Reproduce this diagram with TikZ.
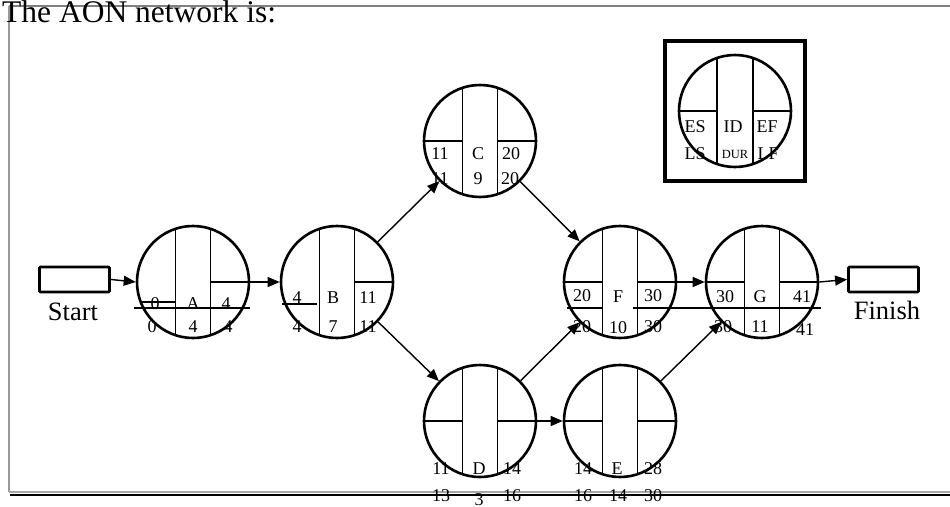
\documentclass[tikz,border=0pt]{standalone}
\usepackage{fontspec}
\setmainfont{Liberation Serif}
\usetikzlibrary{arrows.meta}
\newcommand\aonvert[2]{%
  \draw[div] (#1-17.5,#2-53) -- (#1-17.5,#2+53);
  \draw[div] (#1+17.5,#2-53) -- (#1+17.5,#2+53);
  \draw[div] (#1+17.5,#2) -- (#1+56,#2);
}
\newcommand\aonleft[2]{%
  \draw[div] (#1-56,#2) -- (#1-17.5,#2);
}
\begin{document}
\begin{tikzpicture}[x=1pt,y=-1pt,
  aon/.style={circle,draw,line width=2.6pt,minimum size=112pt,inner sep=0pt},
  div/.style={line width=1.3pt},
  conn/.style={line width=1.4pt,-{Triangle[length=12pt,width=10pt]}},
  lbl/.style={font=\fontsize{18}{18}\selectfont,anchor=base,inner sep=0pt},
  small/.style={font=\fontsize{12.5}{12.5}\selectfont,anchor=base,inner sep=0pt},
  big/.style={font=\fontsize{26.5}{26.5}\selectfont,anchor=base,inner sep=0pt},
  boxnode/.style={draw,line width=2.8pt,minimum width=70pt,minimum height=25pt,inner sep=0pt,rounded corners=1pt},
]
\useasboundingbox (0,0) rectangle (950,506);
% frame
\draw[black!50, line width=2pt] (9,6) -- (950,6);
\draw[black!40, line width=2pt] (9,6) -- (9,492);
\draw[black!35, line width=2pt] (9,491.5) -- (950,491.5);
\draw[black, line width=2pt] (10,494.5) -- (950,494.5);
\node[anchor=base west,font=\fontsize{31.5}{31.5}\selectfont,inner sep=0pt] (title) at (2,23) {The AON network is:};

% start / finish
\node[boxnode] (start) at (74.5,279.5) {};
\node[big] (starttxt) at (73,320) {Start};
\node[boxnode] (fin) at (883.5,279.5) {};
\node[big] (fintxt) at (887,319) {Finish};

% activity nodes
\node[aon] (A) at (193,282) {};
\node[aon] (B) at (337,282) {};
\node[aon] (C) at (480,141) {};
\node[aon] (D) at (480,421) {};
\node[aon] (E) at (620,421) {};
\node[aon] (F) at (620,282) {};
\node[aon] (G) at (762,282) {};

\aonvert{193}{282}
\aonvert{337}{282}
\aonvert{480}{141}\aonleft{480}{141}
\aonvert{480}{421}\aonleft{480}{421}
\aonvert{620}{421}\aonleft{620}{421}
\aonvert{620}{282}\aonleft{620}{282}
\aonvert{762}{282}\aonleft{762}{282}

% stray lines
\draw[div] (140,302) -- (175,302);
\draw[div] (134,308) -- (250,308);
\draw[div] (282,304) -- (317,304);
\draw[div] (567,308) -- (603,308);
\draw[div] (633,308) -- (821,308);

% labels A
\node[lbl] (a1) at (155,309) {0};
\node[lbl] (a2) at (193,309) {A};
\node[lbl] (a3) at (226,309) {4};
\node[lbl] (a4) at (152,332.5) {0};
\node[lbl] (a5) at (193,332.5) {4};
\node[lbl] (a6) at (228,332.5) {4};
% B
\node[lbl] (b1) at (297,303.5) {4};
\node[lbl] (b2) at (333,303.5) {B};
\node[lbl] (b3) at (368,303.5) {11};
\node[lbl] (b4) at (297,332) {4};
\node[lbl] (b5) at (333,332) {7};
\node[lbl] (b6) at (368,332) {11};
% C
\node[lbl] (c1) at (440,159) {11};
\node[lbl] (c2) at (478,159) {C};
\node[lbl] (c3) at (511,159) {20};
\node[lbl] (c4) at (440,184) {11};
\node[lbl] (c5) at (478,184) {9};
\node[lbl] (c6) at (510,184) {20};
% F
\node[lbl] (f1) at (582,301.5) {20};
\node[lbl] (f2) at (618,302.5) {F};
\node[lbl] (f3) at (653,301.5) {30};
\node[lbl] (f4) at (582,332) {20};
\node[lbl] (f5) at (618,333) {10};
\node[lbl] (f6) at (653,332) {30};
% G
\node[lbl] (g1) at (725,302.5) {30};
\node[lbl] (g2) at (760,302.5) {G};
\node[lbl] (g3) at (802,302) {41};
\node[lbl] (g4) at (723,332) {30};
\node[lbl] (g5) at (760,332) {11};
\node[lbl] (g6) at (805,335) {41};
% D
\node[lbl] (d1) at (441,474) {11};
\node[lbl] (d2) at (479,474) {D};
\node[lbl] (d3) at (512,474) {14};
\node[lbl] (d4) at (441,501) {13};
\node[lbl] (d5) at (479,505) {3};
\node[lbl] (d6) at (512,501) {16};
% E
\node[lbl] (e1) at (583,474) {14};
\node[lbl] (e2) at (617,474) {E};
\node[lbl] (e3) at (653,474) {28};
\node[lbl] (e4) at (583,501) {16};
\node[lbl] (e5) at (618,501) {14};
\node[lbl] (e6) at (653,501) {30};

% legend
\node[draw,line width=3.6pt,minimum size=140pt,inner sep=0pt] (key) at (735,111) {};
\node[aon] (keyc) at (735,111) {};
\draw[div] (717,58) -- (717,164);
\draw[div] (753,58) -- (753,164);
\draw[div] (679,111) -- (717,111);
\draw[div] (753,111) -- (791,111);
\node[lbl] (k1) at (695,132) {ES};
\node[lbl] (k2) at (733,132) {ID};
\node[lbl] (k3) at (767,132) {EF};
\node[lbl] (k4) at (695,159) {LS};
\node[small] (k5) at (735,158) {DUR};
\node[lbl] (k6) at (768,159) {LF};

% connectors
\draw[conn] (start.east) -- (A.west);
\draw[conn] (A) -- (B);
\draw[conn] (B) -- (C);
\draw[conn] (B) -- (D);
\draw[conn] (C) -- (F);
\draw[conn] (D) -- (F);
\draw[conn] (D) -- (E);
\draw[conn] (E) -- (G);
\draw[conn] (F) -- (G);
\draw[conn] (G.east) -- (fin.west);
\end{tikzpicture}
\end{document}
